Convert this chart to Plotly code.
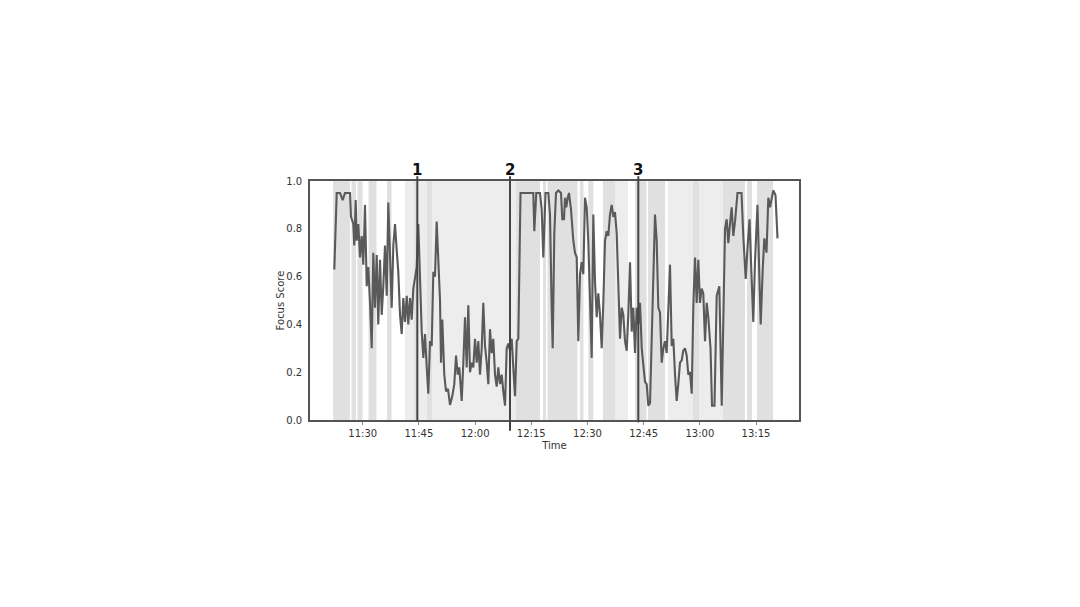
import pandas as pd
import plotly.graph_objects as go

BASE = pd.Timestamp("2024-01-01 11:00:00")

# minutes after 11:00 and focus score
minutes = [22.42, 23.06, 23.94, 24.66, 25.27, 26.61, 26.88, 27.49, 27.76, 28.13, 28.40, 28.83, 29.28, 29.73,
           30.16, 30.61, 31.07, 31.49, 31.95, 32.40, 32.83, 33.28, 33.74, 34.16, 34.62, 35.07, 35.50, 35.95,
           36.41, 36.83, 37.29, 37.74, 38.17, 38.62, 39.08, 39.50, 39.96, 40.41, 40.84, 41.29, 41.75, 42.17,
           42.63, 43.08, 43.51, 43.96, 44.42, 44.84, 45.30, 45.75, 46.18, 46.63, 47.09, 47.51, 47.97, 48.42,
           48.85, 49.30, 49.75, 50.18, 50.64, 50.90, 51.25, 51.78, 52.24, 52.77, 53.31, 53.92, 54.45, 54.91,
           55.36, 55.79, 56.43, 56.86, 57.31, 57.76, 58.19, 58.64, 59.10, 59.52, 59.98, 60.43, 60.86, 61.31,
           61.77, 62.19, 62.65, 63.10, 63.53, 63.98, 64.44, 64.86, 65.32, 65.77, 66.20, 66.65, 67.11, 67.53,
           67.99, 68.44, 68.87, 69.32, 69.78, 70.20, 70.66, 71.11, 71.54, 72.13, 75.54, 75.81, 76.34, 77.33,
           77.78, 78.21, 78.80, 79.55, 80.00, 80.45, 80.72, 81.15, 81.60, 82.22, 82.94, 83.28, 83.74, 84.00,
           84.35, 84.73, 85.07, 85.61, 86.22, 86.67, 87.13, 87.56, 88.01, 88.46, 88.89, 89.34, 89.80, 90.22,
           90.68, 91.13, 91.56, 92.01, 92.47, 92.89, 93.35, 93.80, 94.23, 94.68, 95.14, 95.56, 96.02, 96.47,
           96.90, 97.35, 97.81, 98.23, 98.69, 99.14, 99.57, 100.02, 100.48, 100.90, 101.36, 101.81, 102.24,
           102.69, 103.14, 103.57, 104.03, 104.48, 104.91, 105.36, 105.81, 106.24, 106.70, 107.15, 107.58,
           108.03, 108.48, 108.91, 109.36, 109.82, 110.25, 110.70, 111.15, 111.58, 112.03, 112.49, 112.92,
           113.37, 113.82, 114.25, 114.70, 115.16, 115.58, 116.04, 116.49, 116.92, 117.37, 117.83, 118.25,
           118.71, 119.16, 119.59, 120.04, 120.50, 120.92, 121.38, 121.83, 122.26, 122.85, 123.25, 123.91,
           124.50, 125.20, 125.84, 126.72, 127.17, 127.60, 128.05, 128.50, 128.93, 129.39, 130.05, 131.12,
           131.60, 132.24, 132.72, 133.26, 133.71, 134.27, 134.72, 135.39, 135.87, 136.25, 136.78, 137.21,
           137.80, 138.28, 138.73, 139.18, 139.61, 140.20, 140.73]

scores = [0.63, 0.95, 0.95, 0.92, 0.95, 0.95, 0.85, 0.82, 0.73, 0.92, 0.75, 0.82, 0.68, 0.77,
          0.65, 0.90, 0.56, 0.64, 0.49, 0.30, 0.70, 0.47, 0.69, 0.40, 0.67, 0.44, 0.56, 0.73,
          0.52, 0.91, 0.69, 0.47, 0.73, 0.82, 0.71, 0.62, 0.44, 0.36, 0.51, 0.41, 0.52, 0.40,
          0.51, 0.42, 0.55, 0.59, 0.64, 0.82, 0.56, 0.37, 0.26, 0.36, 0.22, 0.11, 0.33, 0.31,
          0.62, 0.60, 0.83, 0.64, 0.50, 0.24, 0.42, 0.19, 0.12, 0.13, 0.063, 0.10, 0.15, 0.27,
          0.19, 0.22, 0.08, 0.24, 0.43, 0.22, 0.48, 0.20, 0.24, 0.22, 0.34, 0.24, 0.33, 0.19,
          0.30, 0.49, 0.31, 0.24, 0.15, 0.38, 0.28, 0.34, 0.19, 0.14, 0.22, 0.15, 0.19, 0.12,
          0.06, 0.30, 0.32, 0.29, 0.34, 0.22, 0.10, 0.33, 0.34, 0.95, 0.95, 0.79, 0.95, 0.95,
          0.88, 0.68, 0.95, 0.95, 0.86, 0.47, 0.30, 0.78, 0.95, 0.96, 0.95, 0.84, 0.84, 0.93,
          0.89, 0.93, 0.95, 0.88, 0.75, 0.70, 0.68, 0.33, 0.61, 0.66, 0.61, 0.93, 0.89, 0.75,
          0.54, 0.26, 0.86, 0.58, 0.43, 0.53, 0.44, 0.30, 0.49, 0.75, 0.79, 0.77, 0.86, 0.90,
          0.85, 0.87, 0.78, 0.53, 0.34, 0.47, 0.44, 0.33, 0.29, 0.44, 0.66, 0.37, 0.47,
          0.28, 0.47, 0.40, 0.49, 0.30, 0.23, 0.16, 0.15, 0.06, 0.07, 0.33, 0.68,
          0.86, 0.75, 0.47, 0.45, 0.24, 0.30, 0.33, 0.28, 0.47, 0.65, 0.31, 0.34,
          0.19, 0.08, 0.15, 0.24, 0.25, 0.29, 0.30, 0.27, 0.19, 0.20, 0.11, 0.47,
          0.68, 0.49, 0.67, 0.49, 0.55, 0.53, 0.33, 0.49, 0.43, 0.30, 0.06, 0.06,
          0.52, 0.56, 0.06, 0.80, 0.84, 0.74, 0.82, 0.89, 0.77, 0.83, 0.95, 0.95,
          0.77, 0.59, 0.72, 0.84, 0.64, 0.41, 0.66, 0.90, 0.61, 0.40, 0.63, 0.76,
          0.70, 0.93, 0.89, 0.93, 0.96, 0.94, 0.76]

# shaded intervals (minutes after 11:00) and their shade
band_start = [22.1, 27.0, 28.6, 31.55, 36.5, 41.3, 43.7, 44.76, 47.16, 48.5, 70.92, 78.13, 79.33, 88.0,
              90.22, 94.15, 97.35, 102.7, 106.16, 111.5, 118.17, 126.18, 132.58, 135.26]
band_end = [26.6, 28.2, 29.95, 33.68, 37.7, 43.7, 44.76, 47.16, 48.5, 70.92, 77.33, 78.93, 87.34, 88.94,
            91.56, 97.35, 100.82, 105.76, 110.7, 126.18, 119.77, 132.05, 133.92, 139.53]
band_shade = ["m", "m", "m", "m", "m", "l", "m", "l", "m", "l", "m", "m", "m", "m",
              "m", "m", "l", "m", "m", "l", "m", "m", "m", "m"]

marker_minutes = [44.58, 69.32, 103.57]
marker_labels = ["1", "2", "3"]
marker_bottom = [-0.005, -0.045, -0.01]

x_range_minutes = [15.93, 146.47]
y_ticks = [0.0, 0.2, 0.4, 0.6, 0.8, 1.0]


def t(m):
    return BASE + pd.to_timedelta(m, unit="min")


times = [t(m) for m in minutes]
shade_color = {"m": "#e0e0e0", "l": "#ededed"}

fig = go.Figure()
fig.add_trace(go.Scatter(x=times, y=scores, mode="lines",
                         line=dict(color="#5a5a5a", width=2.1), showlegend=False))

shapes = []
for s, e, c in zip(band_start, band_end, band_shade):
    shapes.append(dict(type="rect", xref="x", yref="y", x0=t(s), x1=t(e), y0=0, y1=1,
                       fillcolor=shade_color[c], line=dict(width=0), layer="below"))
for m, b in zip(marker_minutes, marker_bottom):
    shapes.append(dict(type="line", xref="x", yref="paper", x0=t(m), x1=t(m), y0=b, y1=1.02,
                       line=dict(color="#444444", width=2), layer="above"))

annotations = []
for m, lab in zip(marker_minutes, marker_labels):
    annotations.append(dict(x=t(m), y=1.046, xref="x", yref="paper", text="<b>" + lab + "</b>",
                            showarrow=False, yanchor="middle", xanchor="center",
                            font=dict(size=15, color="#111111", family="DejaVu Sans")))

fig.update_layout(
    width=1080, height=607,
    margin=dict(l=302, r=289, t=173, b=195),
    paper_bgcolor="white", plot_bgcolor="white",
    shapes=shapes, annotations=annotations,
    font=dict(family="DejaVu Sans", size=10, color="#333333"),
)
fig.update_xaxes(
    type="date", range=[t(x_range_minutes[0]), t(x_range_minutes[1])],
    tick0=t(30), dtick=15 * 60 * 1000, tickformat="%H:%M",
    showline=True, linecolor="#555555", linewidth=1.6, mirror=True,
    showgrid=False, zeroline=False, ticks="outside", ticklen=3, tickcolor="#888888",
    title=dict(text="Time", font=dict(size=10), standoff=4),
)
fig.update_yaxes(
    range=[0, 1], tickvals=y_ticks, tickformat=".1f",
    showline=True, linecolor="#555555", linewidth=1.6, mirror=True,
    showgrid=False, zeroline=False, ticks="", ticklabelstandoff=4,
    title=dict(text="Focus Score", font=dict(size=10), standoff=0),
)

fig.write_html("out.html")
